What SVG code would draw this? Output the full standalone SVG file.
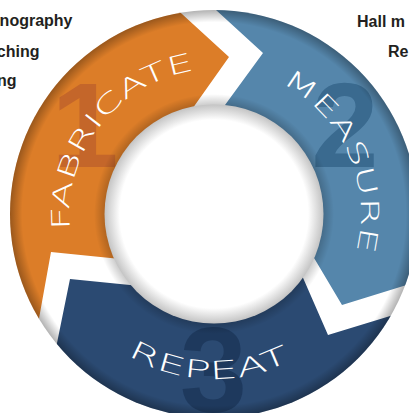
<svg xmlns="http://www.w3.org/2000/svg" xmlns:xlink="http://www.w3.org/1999/xlink" width="409" height="413" viewBox="0 0 409 413">
<defs>
<style>
.side{font-family:"Liberation Sans",Arial,sans-serif;font-weight:bold;font-size:16px;fill:#231f20}
.num{font-family:"Liberation Sans",Arial,sans-serif;font-weight:bold;font-size:121px;text-anchor:middle}
.lbl{font-family:"DejaVu Sans","Liberation Sans",sans-serif;font-weight:200;font-size:25px;fill:#ffffff;text-anchor:middle}
</style>
<clipPath id="ring"><circle cx="214" cy="214" r="204"/></clipPath>
<radialGradient id="rim" cx="214" cy="214" r="204" gradientUnits="userSpaceOnUse">
<stop offset="0.94" stop-color="#000" stop-opacity="0"/>
<stop offset="1" stop-color="#000" stop-opacity="0.3"/>
</radialGradient>
<radialGradient id="discShadow" cx="214" cy="214" r="120" gradientUnits="userSpaceOnUse">
<stop offset="0.9" stop-color="#000" stop-opacity="0.22"/>
<stop offset="1" stop-color="#000" stop-opacity="0"/>
</radialGradient>
<radialGradient id="disc" cx="214" cy="214" r="109.5" gradientUnits="userSpaceOnUse">
<stop offset="0.86" stop-color="#ffffff"/>
<stop offset="1" stop-color="#c4c4c4"/>
</radialGradient>
<path id="pF" d="M123.5,329.8 A147,147 0 0 1 304.5,98.2"/>
<path id="pM" d="M154.2,79.7 A147,147 0 0 1 273.8,348.3"/>
<path id="pR" d="M49.1,208.2 A165,165 0 0 0 378.9,219.8"/>
</defs>
<rect width="409" height="413" fill="#ffffff"/>
<g id="side-texts">
<text class="side" x="72.5" y="26" text-anchor="end">nography</text>
<text class="side" x="39.5" y="56.5" text-anchor="end">ching</text>
<text class="side" x="16.5" y="86" text-anchor="end">ng</text>
<text class="side" x="357" y="26.5">Hall m</text>
<text class="side" x="388" y="56.5">Re</text>
</g>
<g id="node-fabricate">
<polygon clip-path="url(#ring)" fill="#dc7d28" points="135,-29 229,57 178,129 214,214 140,261 51,252 29,374 -60,374 -60,-29"/>
<text class="num" x="85" y="167" fill="#c4662a">1</text>
<text class="lbl"><textPath xlink:href="#pF" href="#pF" startOffset="50%" textLength="223" lengthAdjust="spacingAndGlyphs">FABRICATE</textPath></text>
</g>
<g id="node-measure">
<polygon clip-path="url(#ring)" fill="#5586ab" points="169,-33 263,53 206,131 214,214 298,231 342,305 458,269 480,-40 169,-40"/>
<text class="num" x="345" y="167" fill="#3a6a8f">2</text>
<text class="lbl"><textPath xlink:href="#pM" href="#pM" startOffset="50%" textLength="199" lengthAdjust="spacingAndGlyphs">MEASURE</textPath></text>
</g>
<g id="node-repeat">
<polygon clip-path="url(#ring)" fill="#2b4a72" points="214,214 290,248 328,335 446,299 470,470 -40,470 44,407 70,279 160,288"/>
<text class="num" x="213.5" y="412" fill="#1e395d" clip-path="url(#ring)">3</text>
<text class="lbl"><textPath xlink:href="#pR" href="#pR" startOffset="50%" textLength="170" lengthAdjust="spacingAndGlyphs">REPEAT</textPath></text>
</g>
<g id="connectors"></g>
<g id="shading">
<circle cx="214" cy="214" r="204" fill="url(#rim)"/>
<circle cx="214" cy="214" r="120" fill="url(#discShadow)"/>
<circle cx="214" cy="214" r="109.5" fill="url(#disc)"/>
</g>
</svg>
